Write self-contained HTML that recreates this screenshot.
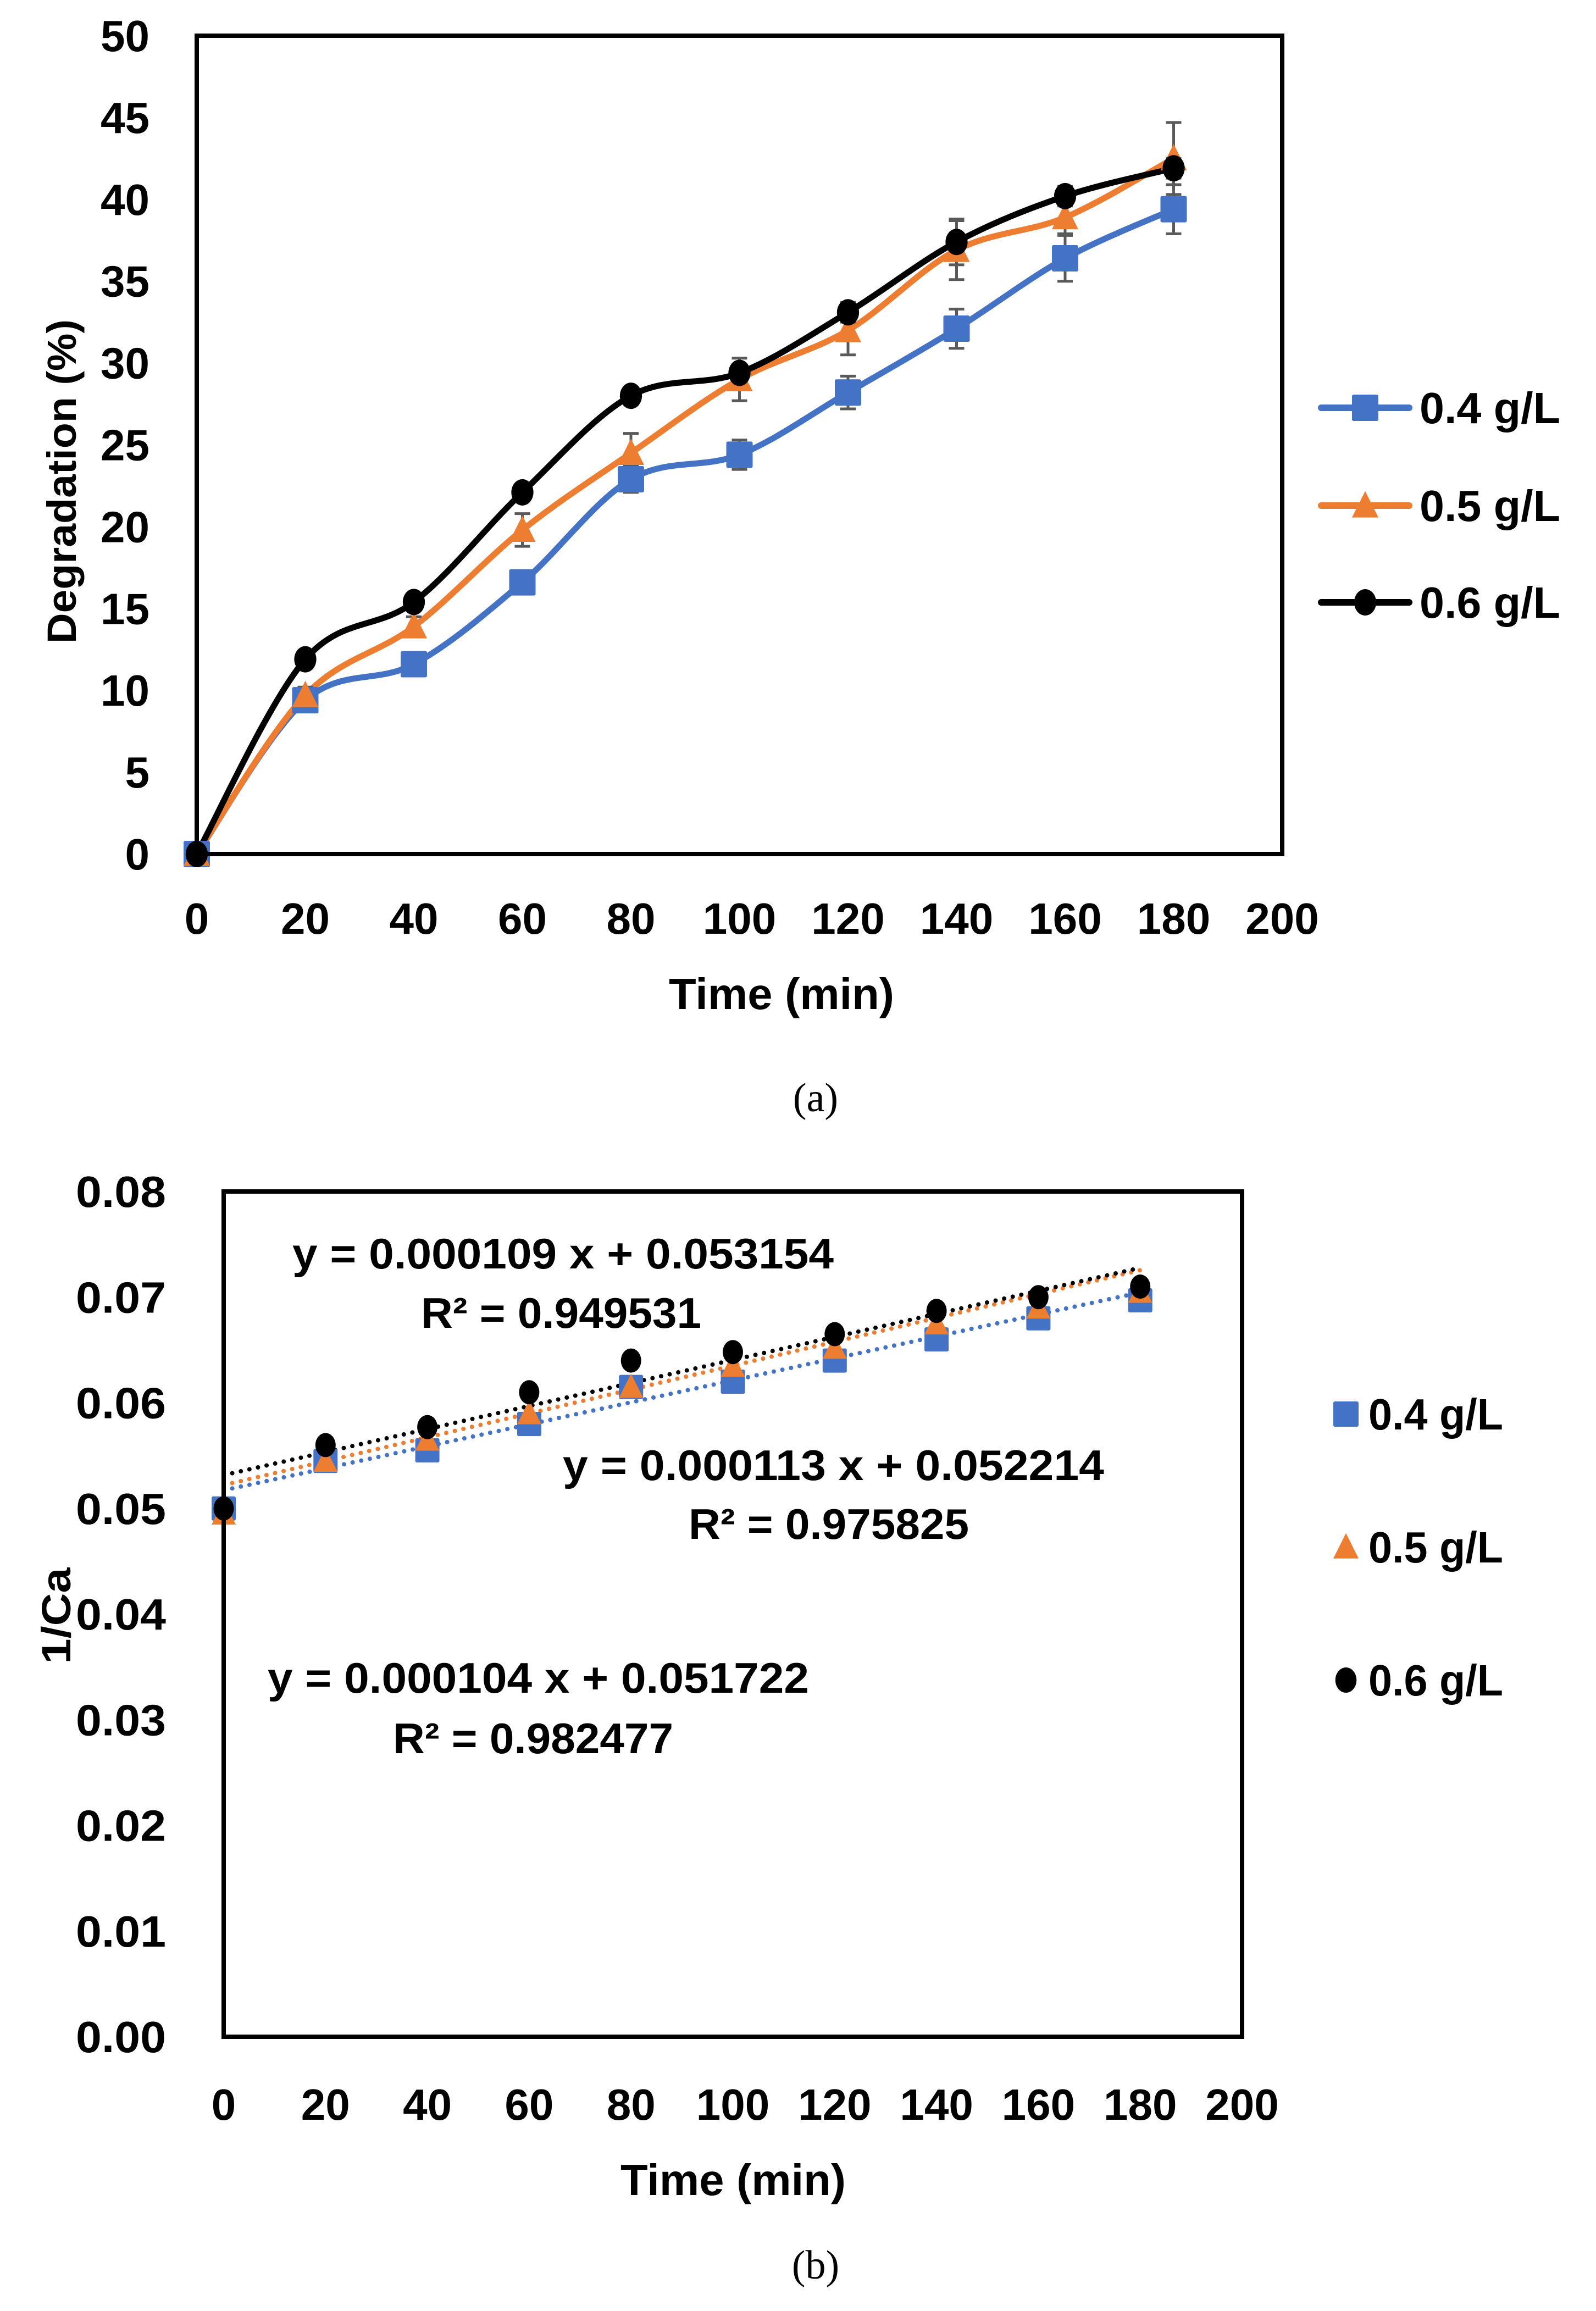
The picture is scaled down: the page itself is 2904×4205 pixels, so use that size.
<!DOCTYPE html>
<html><head><meta charset="utf-8"><style>
html,body{margin:0;padding:0;background:#fff;}
svg{display:block;}
text{font-family:"Liberation Sans",sans-serif;font-weight:bold;fill:#000;}
</style></head><body>
<svg id="fig" width="2904" height="4205" viewBox="0 0 2904 4205" xmlns="http://www.w3.org/2000/svg">
<g id="chartA"></g>
<g id="chartB"></g>
</svg>
<script>
// ---- Chart (a) data ----
const timesA = [0,20,40,60,80,100,120,140,160,180];
const deg04 = [0,9.4,11.6,16.6,22.9,24.4,28.2,32.1,36.4,39.4];
const deg05 = [0,9.7,13.9,19.8,24.5,29.0,32.0,36.9,38.9,42.5];
const deg06 = [0,11.9,15.4,22.1,28.0,29.4,33.1,37.4,40.2,41.9];
const err04 = [0,0.5,0.5,0.6,0.8,0.9,1.0,1.2,1.4,1.5];
const err05 = [0,0.5,0.6,1.0,1.2,1.3,1.5,1.8,1.0,2.2];
const err06 = [0,0.3,0.4,0.4,0.5,0.9,0.6,1.4,0.6,0.6];
const yTicksA = [0,5,10,15,20,25,30,35,40,45,50];
const xTicks = [0,20,40,60,80,100,120,140,160,180,200];
const seriesNames = ["0.4 g/L","0.5 g/L","0.6 g/L"];
// ---- Chart (b) data ----
const timesB = [0,20,40,60,80,100,120,140,160,180];
const inv04 = [0.0500,0.0545,0.0555,0.0580,0.0615,0.0620,0.0640,0.0660,0.0680,0.0697];
const inv05 = [0.0495,0.0545,0.0565,0.0590,0.0615,0.0635,0.0652,0.0675,0.0690,0.0705];
const inv06 = [0.0500,0.0560,0.0577,0.0610,0.0640,0.0648,0.0665,0.0687,0.0700,0.0710];
const slopes = [0.000104,0.000113,0.000109];
const intercepts = [0.051722,0.052214,0.053154];
const eqLabels = ["y = 0.000104 x + 0.051722","y = 0.000113 x + 0.052214","y = 0.000109 x + 0.053154"];
const r2Labels = ["R² = 0.982477","R² = 0.975825","R² = 0.949531"];
const yTicksB = ["0.00","0.01","0.02","0.03","0.04","0.05","0.06","0.07","0.08"];

const NS="http://www.w3.org/2000/svg";
const colors=["#4472C4","#ED7D31","#000000"];
function mk(parent,tag,attrs,txt){const e=document.createElementNS(NS,tag);for(const k in attrs)e.setAttribute(k,attrs[k]);if(txt!==undefined)e.textContent=txt;parent.appendChild(e);return e;}
function marker(g,kind,x,y,s,c){
  let m;
  if(kind===0){m=mk(g,"rect",{x:x-s/2,y:y-s/2,width:s,height:s,rx:3,fill:c});}
  else if(kind===1){m=mk(g,"path",{d:`M${x},${y-s*0.55}L${x+s*0.5},${y+s*0.45}L${x-s*0.5},${y+s*0.45}Z`,fill:c});}
  else {m=mk(g,"ellipse",{cx:x,cy:y,rx:s*0.42,ry:s*0.5,fill:c});}
  return m;
}
function smooth(pts){
  let d=`M${pts[0][0]},${pts[0][1]}`;
  for(let i=0;i<pts.length-1;i++){
    const p0=pts[Math.max(i-1,0)],p1=pts[i],p2=pts[i+1],p3=pts[Math.min(i+2,pts.length-1)];
    const t=0.5/3;
    d+=`C${p1[0]+(p2[0]-p0[0])*t},${p1[1]+(p2[1]-p0[1])*t} ${p2[0]-(p3[0]-p1[0])*t},${p2[1]-(p3[1]-p1[1])*t} ${p2[0]},${p2[1]}`;
  }
  return d;
}

// ===== Chart A =====
(function(){
const g=document.getElementById("chartA");
const L=358,R=2333,T=65,B=1554;
const xs=v=>L+(v/200)*(R-L);
const ys=v=>B-(v/50)*(B-T);
yTicksA.forEach(v=>{
  const t=mk(g,"text",{x:272,y:ys(v)+28,"font-size":80,"text-anchor":"end"},String(v));
  
  
});
xTicks.forEach(v=>{
  const t=mk(g,"text",{x:xs(v),y:1699,"font-size":80,"text-anchor":"middle"},String(v));
  
  
});
const yt=mk(g,"text",{x:0,y:0,"font-size":74,"text-anchor":"middle",transform:"translate(138,876) rotate(-90)",textLength:590,lengthAdjust:"spacingAndGlyphs"},"Degradation (%)");


const xt=mk(g,"text",{x:1422,y:1836,"font-size":80,"text-anchor":"middle",textLength:410,lengthAdjust:"spacingAndGlyphs"},"Time (min)");


const cap=mk(g,"text",{x:1484,y:2022,"font-size":74,"text-anchor":"middle",style:"font-family:'Liberation Serif',serif;font-weight:normal"},"(a)");


const data=[deg04,deg05,deg06],errs=[err04,err05,err06];
data.forEach((ser,si)=>{
  const pts=ser.map((v,i)=>[xs(timesA[i]),ys(v)]);
  const p=mk(g,"path",{d:smooth(pts),fill:"none",stroke:colors[si],"stroke-width":11,"stroke-linecap":"round"});
  
  
});
data.forEach((ser,si)=>{
  ser.forEach((v,i)=>{
    const e=errs[si][i];
    if(e>0){
      const x=xs(timesA[i]);
      const eb=mk(g,"path",{d:`M${x},${ys(v+e)}V${ys(v-e)}M${x-14},${ys(v+e)}H${x+14}M${x-14},${ys(v-e)}H${x+14}`,stroke:"#595959","stroke-width":5,fill:"none"});
      
      
    }
  });
});
data.forEach((ser,si)=>{
  ser.forEach((v,i)=>{
    const m=marker(g,si,xs(timesA[i]),ys(v),48,colors[si]);
    
    
  });
});
const box=mk(g,"rect",{x:L,y:T,width:R-L,height:B-T,fill:"none",stroke:"#000","stroke-width":8});


const ly=[742,920,1096];
seriesNames.forEach((n,si)=>{
  const lg=mk(g,"g",{});
  
  
  mk(lg,"line",{x1:2404,x2:2564,y1:ly[si],y2:ly[si],stroke:colors[si],"stroke-width":12,"stroke-linecap":"round"});
  marker(lg,si,2484,ly[si],48,colors[si]);
  mk(lg,"text",{x:2583,y:ly[si]+28,"font-size":80,textLength:256,lengthAdjust:"spacingAndGlyphs"},n);
});
})();

// ===== Chart B =====
(function(){
const g=document.getElementById("chartB");
const L=407,R=2260,T=2168,B=3706;
const xs=v=>L+(v/200)*(R-L);
const ys=v=>B-(v/0.08)*(B-T);
yTicksB.forEach(s=>{
  const t=mk(g,"text",{x:302,y:ys(parseFloat(s))+28,"font-size":80,"text-anchor":"end",textLength:164,lengthAdjust:"spacingAndGlyphs"},s);
  
  
});
xTicks.forEach(v=>{
  const t=mk(g,"text",{x:xs(v),y:3857,"font-size":80,"text-anchor":"middle"},String(v));
  
  
});
const yt=mk(g,"text",{x:0,y:0,"font-size":74,"text-anchor":"middle",transform:"translate(128,2940) rotate(-90)",textLength:175,lengthAdjust:"spacingAndGlyphs"},"1/Ca");


const xt=mk(g,"text",{x:1334,y:3994,"font-size":80,"text-anchor":"middle",textLength:410,lengthAdjust:"spacingAndGlyphs"},"Time (min)");


const cap=mk(g,"text",{x:1484,y:4146,"font-size":74,"text-anchor":"middle",style:"font-family:'Liberation Serif',serif;font-weight:normal"},"(b)");


const data=[inv04,inv05,inv06];
data.forEach((ser,si)=>{
  const tl=mk(g,"line",{x1:xs(0),y1:ys(intercepts[si]),x2:xs(180),y2:ys(intercepts[si]+slopes[si]*180),stroke:colors[si],"stroke-width":8,"stroke-dasharray":"0 16","stroke-linecap":"round"});
  
  
});
data.forEach((ser,si)=>{
  ser.forEach((v,i)=>{
    const m=marker(g,si,xs(timesB[i]),ys(v),44,colors[si]);
    
    
  });
});
const box=mk(g,"rect",{x:L,y:T,width:R-L,height:B-T,fill:"none",stroke:"#000","stroke-width":8});


const eqPos=[[487,3080,715,3190],[1024,2693,1253,2800],[532,2308,766,2416]];
eqLabels.forEach((s,i)=>{
  const e1=mk(g,"text",{x:eqPos[i][0],y:eqPos[i][1],"font-size":78,textLength:985,lengthAdjust:"spacingAndGlyphs"},s);
  
  
  const e2=mk(g,"text",{x:eqPos[i][2],y:eqPos[i][3],"font-size":78,textLength:510,lengthAdjust:"spacingAndGlyphs"},r2Labels[i]);
  
  
});
const ly=[2573,2815,3057];
seriesNames.forEach((n,si)=>{
  const lg=mk(g,"g",{});
  
  
  marker(lg,si,2449,ly[si],46,colors[si]);
  mk(lg,"text",{x:2490,y:ly[si]+28,"font-size":80,textLength:245,lengthAdjust:"spacingAndGlyphs"},n);
});
})();
</script>
</body></html>
